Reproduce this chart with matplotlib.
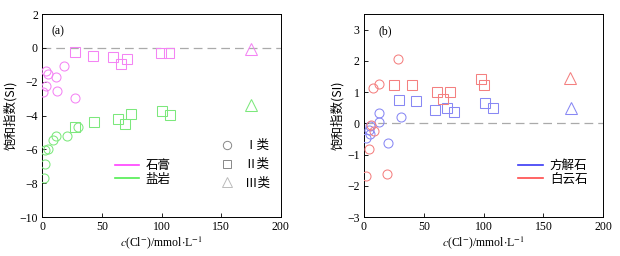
import matplotlib
matplotlib.use("Agg")
import matplotlib.pyplot as plt
from matplotlib.lines import Line2D

plt.rcParams["font.family"] = ["Liberation Serif", "Noto Sans CJK SC", "DejaVu Sans"]
plt.rcParams["mathtext.fontset"] = "stix"
plt.rcParams["axes.unicode_minus"] = True

# ---- panel (a): gypsum / halite ----
gyp_c_x = [0.8, 3.6, 5.0, 3.6, 11.5, 12.6, 18.4, 27.7]
gyp_c_y = [-2.62, -1.34, -1.57, -2.24, -1.71, -2.54, -1.08, -2.95]
gyp_s_x = [27.7, 42.5, 59.5, 65.9, 70.9, 99.2, 106.4]
gyp_s_y = [-0.26, -0.45, -0.53, -0.96, -0.67, -0.31, -0.31]
gyp_t_x = [175.1]
gyp_t_y = [-0.08]

hal_c_x = [1.7, 2.2, 2.5, 5.0, 9.2, 12.0, 21.0, 30.4]
hal_c_y = [-7.68, -6.87, -6.06, -6.0, -5.43, -5.2, -5.2, -4.65]
hal_s_x = [27.7, 43.6, 63.4, 69.8, 74.3, 100.0, 106.7]
hal_s_y = [-4.65, -4.35, -4.19, -4.51, -3.9, -3.72, -3.96]
hal_t_x = [174.8]
hal_t_y = [-3.35]

# ---- panel (b): calcite / dolomite ----
cal_c_x = [1.9, 4.2, 4.7, 5.0, 12.3, 12.6, 20.4, 31.2]
cal_c_y = [-0.48, -0.2, -0.08, -0.35, 0.33, 0.06, -0.62, 0.2]
cal_s_x = [29.0, 43.2, 59.4, 69.2, 75.3, 101.0, 107.7]
cal_s_y = [0.76, 0.73, 0.42, 0.5, 0.37, 0.64, 0.5]
cal_t_x = [173.0]
cal_t_y = [0.5]

dol_c_x = [2.0, 3.9, 6.1, 8.4, 7.8, 12.3, 28.5, 19.5]
dol_c_y = [-1.67, -0.82, -0.06, -0.23, 1.14, 1.26, 2.07, -1.61]
dol_s_x = [25.4, 40.4, 61.1, 65.8, 72.0, 97.9, 100.4]
dol_s_y = [1.24, 1.24, 0.99, 0.77, 0.99, 1.41, 1.24]
dol_t_x = [172.4]
dol_t_y = [1.46]

col = {"gyp": "#f484f4", "hal": "#7ce87c", "cal": "#8888f4", "dol": "#f48080"}
line_col = {"gyp": "#ff40ff", "hal": "#50ee50", "cal": "#3a3af5", "dol": "#ff4a4a"}

fig = plt.figure(figsize=(6.2, 2.56), dpi=100)
ax1 = fig.add_axes([0.068, 0.152, 0.385, 0.793])
ax2 = fig.add_axes([0.587, 0.152, 0.386, 0.793])

def pts(ax, x, y, marker, c, ms):
    ax.plot(x, y, linestyle="none", marker=marker, ms=ms, mfc="none",
            mec=c, mew=0.75, zorder=3)

def group(ax, key, cx, cy, sx, sy, tx, ty):
    pts(ax, cx, cy, "o", col[key], 6.5)
    pts(ax, sx, sy, "s", col[key], 6.5)
    pts(ax, tx, ty, "^", col[key], 8)

group(ax1, "gyp", gyp_c_x, gyp_c_y, gyp_s_x, gyp_s_y, gyp_t_x, gyp_t_y)
group(ax1, "hal", hal_c_x, hal_c_y, hal_s_x, hal_s_y, hal_t_x, hal_t_y)
group(ax2, "cal", cal_c_x, cal_c_y, cal_s_x, cal_s_y, cal_t_x, cal_t_y)
group(ax2, "dol", dol_c_x, dol_c_y, dol_s_x, dol_s_y, dol_t_x, dol_t_y)

for ax in (ax1, ax2):
    ax.axhline(0, color="#aaaaaa", lw=0.9, ls=(0, (7, 4)), zorder=1)
    ax.set_xlim(0, 200)
    ax.set_xticks([0, 50, 100, 150, 200])
    ax.tick_params(direction="in", length=3, width=0.6, labelsize=8.5, pad=3)
    for sp in ax.spines.values():
        sp.set_linewidth(0.7)
    ax.set_xlabel(r"$c$(Cl$^{-}$)/mmol$\cdot$L$^{-1}$", fontsize=8.5, labelpad=1)
    ax.set_ylabel("饱和指数(SI)", fontsize=9, labelpad=2,
                  family=["Noto Sans CJK SC", "DejaVu Sans"])

ax1.set_ylim(-10, 2)
ax1.set_yticks([-10, -8, -6, -4, -2, 0, 2])
ax2.set_ylim(-3, 3.5)
ax2.set_yticks([-3, -2, -1, 0, 1, 2, 3])

ax1.text(0.04, 0.9, "(a)", transform=ax1.transAxes, fontsize=8.5)
ax2.text(0.06, 0.9, "(b)", transform=ax2.transAxes, fontsize=8.5)

cjk = {"family": ["Noto Sans CJK SC", "DejaVu Sans"], "size": 9}

# panel (a) legends
h_lines = [Line2D([], [], color=line_col["gyp"], lw=1.2),
           Line2D([], [], color=line_col["hal"], lw=1.2)]
leg1 = ax1.legend(h_lines, ["石膏", "盐岩"], loc="lower left",
                  bbox_to_anchor=(0.26, 0.1), frameon=False, prop=cjk,
                  handlelength=1.9, handletextpad=0.5, labelspacing=0.05)
ax1.add_artist(leg1)
h_mk = [Line2D([], [], ls="none", marker="o", ms=6, mfc="none", mec="#888888", mew=0.7),
        Line2D([], [], ls="none", marker="s", ms=6, mfc="none", mec="#888888", mew=0.7),
        Line2D([], [], ls="none", marker="^", ms=7, mfc="none", mec="#bbbbbb", mew=0.7)]
ax1.legend(h_mk, ["Ⅰ类", "Ⅱ类", "Ⅲ类"], loc="lower right",
           bbox_to_anchor=(1.0, 0.08), frameon=False, prop=cjk,
           handletextpad=0.4, labelspacing=0.45)

# panel (b) legend
h_lines2 = [Line2D([], [], color=line_col["cal"], lw=1.2),
            Line2D([], [], color=line_col["dol"], lw=1.2)]
ax2.legend(h_lines2, ["方解石", "白云石"], loc="lower right",
           bbox_to_anchor=(0.98, 0.1), frameon=False, prop=cjk,
           handlelength=2.0, handletextpad=0.5, labelspacing=0.05)

fig.savefig("out.png", dpi=100)
